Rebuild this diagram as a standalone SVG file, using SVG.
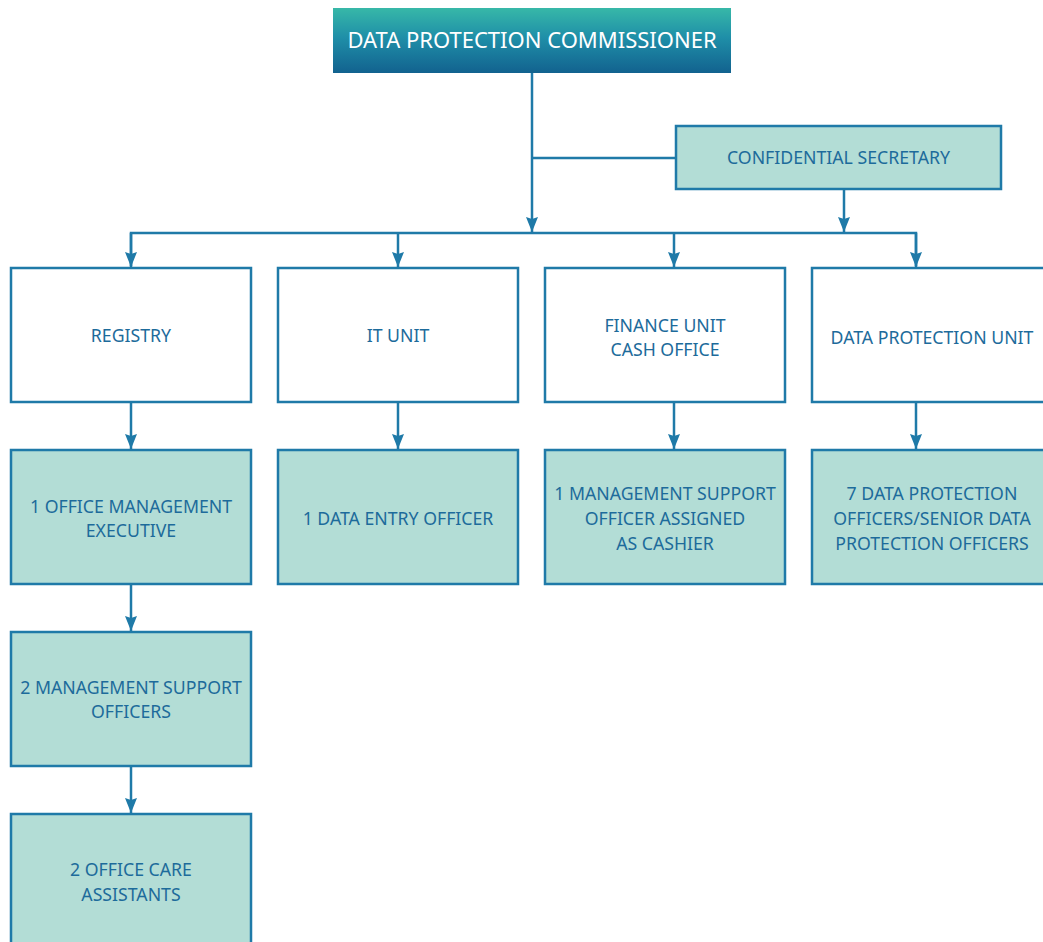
<svg xmlns="http://www.w3.org/2000/svg" width="1043" height="942" viewBox="0 0 1043 942">
<defs>
<linearGradient id="g" x1="0" y1="0" x2="0" y2="1">
<stop offset="0" stop-color="#37b8a8"/>
<stop offset="0.45" stop-color="#1f8fa8"/>
<stop offset="1" stop-color="#12628f"/>
</linearGradient>
<marker id="ah" markerWidth="15" markerHeight="12" refX="15" refY="6" orient="auto" markerUnits="userSpaceOnUse" viewBox="0 0 15 12">
<path d="M0,0 L15,6 L0,12 L2,6 Z" fill="#1f7aa8"/>
</marker>
<style>
.box{stroke:#1f7aa8;stroke-width:2.5}
.w{fill:#ffffff}
.t{fill:#b3ddd6}
.lbl{font-family:"Source Sans Pro","Noto Sans","Open Sans",sans-serif;font-size:17.7px;fill:#1d6b9b;text-anchor:middle}
.ttl{font-family:"Source Sans Pro","Noto Sans","Open Sans",sans-serif;font-size:22px;fill:#ffffff;text-anchor:middle}
.c{fill:none;stroke:#1f7aa8;stroke-width:2.5}
</style>
</defs>
<rect width="1043" height="942" fill="#ffffff"/>
<g id="connectors">
<path class="c" d="M532,73 V232" marker-end="url(#ah)"/>
<path class="c" d="M532,158 H676"/>
<path class="c" d="M844,189 V232" marker-end="url(#ah)"/>
<path class="c" d="M131,266 V233 H916 V266"/>
<path class="c" d="M131,233 V267" marker-end="url(#ah)"/>
<path class="c" d="M398,233 V267" marker-end="url(#ah)"/>
<path class="c" d="M674,233 V267" marker-end="url(#ah)"/>
<path class="c" d="M916,233 V267" marker-end="url(#ah)"/>
<path class="c" d="M131,402 V449" marker-end="url(#ah)"/>
<path class="c" d="M398,402 V449" marker-end="url(#ah)"/>
<path class="c" d="M674,402 V449" marker-end="url(#ah)"/>
<path class="c" d="M916,402 V449" marker-end="url(#ah)"/>
<path class="c" d="M131,584 V631" marker-end="url(#ah)"/>
<path class="c" d="M131,766 V813" marker-end="url(#ah)"/>
</g>
<g id="commissioner">
<rect x="333" y="8" width="398" height="65" fill="url(#g)"/>
<text class="ttl" x="532" y="48">DATA PROTECTION COMMISSIONER</text>
</g>
<g id="secretary">
<rect class="box t" x="676" y="126" width="325" height="63"/>
<text class="lbl" x="838.5" y="164">CONFIDENTIAL SECRETARY</text>
</g>
<g id="registry">
<rect class="box w" x="11" y="268" width="240" height="134"/>
<text class="lbl" x="131" y="342">REGISTRY</text>
</g>
<g id="it-unit">
<rect class="box w" x="278" y="268" width="240" height="134"/>
<text class="lbl" x="398" y="342">IT UNIT</text>
</g>
<g id="finance-unit">
<rect class="box w" x="545" y="268" width="240" height="134"/>
<text class="lbl" x="665" y="332">FINANCE UNIT</text>
<text class="lbl" x="665" y="356">CASH OFFICE</text>
</g>
<g id="dp-unit">
<rect class="box w" x="812" y="268" width="240" height="134"/>
<text class="lbl" x="932" y="344">DATA PROTECTION UNIT</text>
</g>
<g id="ome">
<rect class="box t" x="11" y="450" width="240" height="134"/>
<text class="lbl" x="131" y="513">1 OFFICE MANAGEMENT</text>
<text class="lbl" x="131" y="537">EXECUTIVE</text>
</g>
<g id="deo">
<rect class="box t" x="278" y="450" width="240" height="134"/>
<text class="lbl" x="398" y="525">1 DATA ENTRY OFFICER</text>
</g>
<g id="cashier">
<rect class="box t" x="545" y="450" width="240" height="134"/>
<text class="lbl" x="665" y="500">1 MANAGEMENT SUPPORT</text>
<text class="lbl" x="665" y="525">OFFICER ASSIGNED</text>
<text class="lbl" x="665" y="550">AS CASHIER</text>
</g>
<g id="dpo">
<rect class="box t" x="812" y="450" width="240" height="134"/>
<text class="lbl" x="932" y="500">7 DATA PROTECTION</text>
<text class="lbl" x="932" y="525">OFFICERS/SENIOR DATA</text>
<text class="lbl" x="932" y="550">PROTECTION OFFICERS</text>
</g>
<g id="mso">
<rect class="box t" x="11" y="632" width="240" height="134"/>
<text class="lbl" x="131" y="694">2 MANAGEMENT SUPPORT</text>
<text class="lbl" x="131" y="718">OFFICERS</text>
</g>
<g id="oca">
<rect class="box t" x="11" y="814" width="240" height="134"/>
<text class="lbl" x="131" y="876">2 OFFICE CARE</text>
<text class="lbl" x="131" y="901">ASSISTANTS</text>
</g>
</svg>
